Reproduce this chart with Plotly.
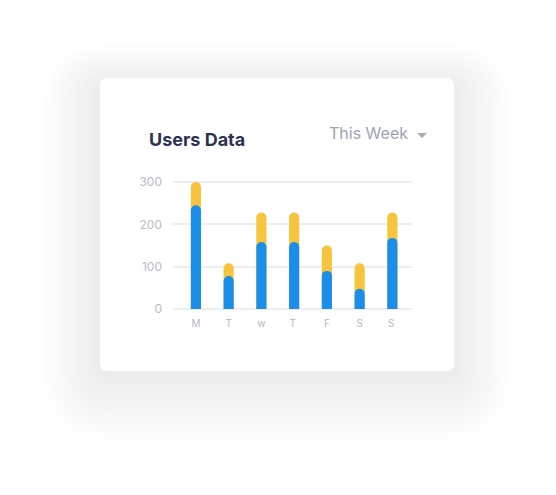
import plotly.graph_objects as go

days = ["M", "T", "w", "T ", "F", "S", "S "]
blue_vals = [245, 78, 158, 158, 90, 48, 168]
yellow_vals = [55, 30, 70, 70, 60, 60, 60]
y_ticks = [0, 100, 200, 300]

W, H = 556, 495
YMIN, YMAX = -7, 307
PPU = 127 / 300.0
PL, PR = 173, 412
PT = 182 - (YMAX - 300) * PPU
PB = 309 - YMIN * PPU

def px_x(x):
    return (x - PL) / (PR - PL)

def px_y(y):
    return (PB - y) / (PB - PT)

def rrect(x0, y0, x1, y1, r):
    X = px_x; Y = px_y
    return (f"M {X(x0+r)},{Y(y0)} L {X(x1-r)},{Y(y0)} Q {X(x1)},{Y(y0)} {X(x1)},{Y(y0+r)} "
            f"L {X(x1)},{Y(y1-r)} Q {X(x1)},{Y(y1)} {X(x1-r)},{Y(y1)} "
            f"L {X(x0+r)},{Y(y1)} Q {X(x0)},{Y(y1)} {X(x0)},{Y(y1-r)} "
            f"L {X(x0)},{Y(y0+r)} Q {X(x0)},{Y(y0)} {X(x0+r)},{Y(y0)} Z")

totals = [b + y for b, y in zip(blue_vals, yellow_vals)]

fig = go.Figure()
fig.add_trace(go.Bar(x=days, y=totals, marker=dict(color="#F9C43D", line=dict(width=0), cornerradius=5),
                     width=0.31, hoverinfo="skip"))
fig.add_trace(go.Bar(x=days, y=blue_vals, marker=dict(color="#1A8EE8", line=dict(width=0), cornerradius=5),
                     width=0.31, hoverinfo="skip", xaxis="x2"))

shapes = []
card = (100, 78, 454, 371)
n = 18
for i in range(n, 0, -1):
    d = i * 3.2
    shapes.append(dict(type="path", xref="paper", yref="paper", layer="below",
                       path=rrect(card[0]-d, card[1]-d*0.7+6, card[2]+d, card[3]+d*1.15+6, 8+d),
                       fillcolor="rgba(30,30,60,0.0023)", line=dict(width=0)))
shapes.append(dict(type="path", xref="paper", yref="paper", layer="below",
                   path=rrect(*card, 8), fillcolor="#FFFFFF", line=dict(width=0)))
shapes.append(dict(type="path", xref="paper", yref="paper", layer="above",
                   path=f"M {px_x(417)},{px_y(133)} L {px_x(427)},{px_y(133)} L {px_x(422)},{px_y(138)} Z",
                   fillcolor="#A7ABBA", line=dict(width=0)))

annotations = [
    dict(text="<b>Users Data</b>", xref="paper", yref="paper", x=px_x(147), y=px_y(140),
         xanchor="left", yanchor="middle", showarrow=False,
         font=dict(family="Inter, Open Sans, sans-serif", size=18, color="#2D3452")),
    dict(text="This Week", xref="paper", yref="paper", x=px_x(410), y=px_y(133),
         xanchor="right", yanchor="middle", showarrow=False,
         font=dict(family="Inter, Open Sans, sans-serif", size=16, color="#9DA2B3")),
]

xcommon = dict(range=[-0.7, 6.6], showgrid=False, zeroline=False, showline=False, ticks="",
               fixedrange=True)
fig.update_layout(
    width=W, height=H,
    margin=dict(l=PL, r=W - PR, t=PT, b=H - PB, pad=0),
    paper_bgcolor="#FFFFFF", plot_bgcolor="rgba(0,0,0,0)",
    barmode="overlay", showlegend=False,
    shapes=shapes, annotations=annotations,
    xaxis=dict(**xcommon, tickfont=dict(family="Inter, Open Sans, sans-serif", size=10, color="#B5B9C4"),
               ticklabelstandoff=4),
    xaxis2=dict(**xcommon, overlaying="x", showticklabels=False, matches="x"),
    yaxis=dict(range=[YMIN, YMAX], tickvals=y_ticks, showgrid=True, gridcolor="#ECEEF3", gridwidth=2,
               zeroline=False, showline=False, ticks="",
               tickfont=dict(family="Inter, Open Sans, sans-serif", size=12, color="#B8BCC6"),
               ticklabelstandoff=10, fixedrange=True),
)
fig.write_html("out.html", config={"displayModeBar": False})
